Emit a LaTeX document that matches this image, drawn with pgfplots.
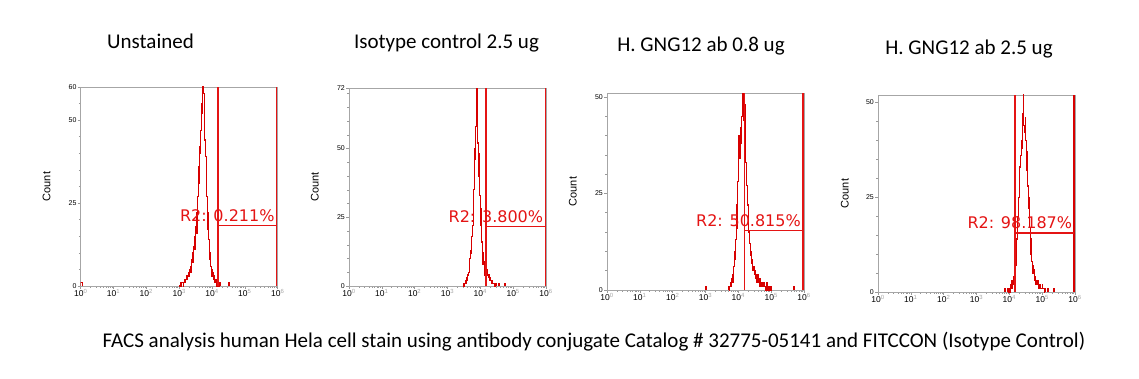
\documentclass[border=0pt]{standalone}
\usepackage{fontspec}
\setmainfont{Carlito}
\newfontfamily\arial{Liberation Sans}
\newfontfamily\dejavu{DejaVu Sans}
\usepackage{pgfplots}
\pgfplotsset{compat=1.18}
\definecolor{histc}{RGB}{215,0,0}
\definecolor{gatec}{RGB}{228,20,20}
\newcommand{\dectl}[1]{10\textsuperscript{\color{black!35}#1}}
\begin{document}
\begin{tikzpicture}
\path[use as bounding box] (0,0) rectangle (1139pt,378pt);

% ---------- Panel 1: Unstained ----------
\begin{axis}[xmode=log, scale only axis, width=197pt, height=199pt, anchor=south west, at={(80.7pt,92pt)},
    xmin=1, xmax=1000000, ymin=0, ymax=60,
    tick pos=left, tick align=outside,
    axis line style={black!35, line width=0.6pt},
    tick style={black!40, line width=0.5pt},
    major tick length=3pt, minor tick length=1.8pt,
    xtick={1,10,100,1000,10000,100000,1000000},
    xticklabels={\dectl{0},\dectl{1},\dectl{2},\dectl{3},\dectl{4},\dectl{5},\dectl{6}},
    minor xtick={2,3,4,5,6,7,8,9,20,30,40,50,60,70,80,90,200,300,400,500,600,700,800,900,2000,3000,4000,5000,6000,7000,8000,9000,20000,30000,40000,50000,60000,70000,80000,90000,200000,300000,400000,500000,600000,700000,800000,900000},
    xticklabel style={font=\arial\fontsize{8.5}{9}\selectfont, inner sep=0.5pt},
    yticklabel style={font=\arial\fontsize{7}{8}\selectfont, inner sep=1pt},
    ylabel={Count},
    ylabel style={font=\arial\fontsize{11}{12}\selectfont, at={(axis description cs:-0.173,0.5)}, anchor=center},
    ytick={0,25,50,60}, yticklabels={0,25,50,60}, minor ytick={5,10,15,20,30,35,40,45,55}]
\addplot[const plot, mark=none, draw=histc, line width=1.2pt] coordinates {(1,0) (1,1) (1.12,0)};
\addplot[const plot, mark=none, draw=histc, line width=1.2pt] coordinates {(1000,0) (1096,1) (1148,0) (1202,1) (1259,1) (1318,0) (1380,1) (1445,2) (1514,1) (1585,2) (1660,3) (1738,2) (1820,3) (1905,4) (1995,3) (2089,5) (2188,4) (2291,6) (2399,8) (2512,7) (2630,10) (2754,12) (2884,11) (3020,15) (3162,18) (3311,16) (3467,22) (3631,27) (3802,31) (3981,36) (4169,42) (4365,40) (4571,47) (4786,55) (5012,52) (5248,63) (5495,58) (5754,50) (6026,44) (6310,39) (6607,34) (6918,27) (7244,22) (7586,17) (7943,14) (8318,10) (8710,8) (9120,6) (9550,5) (10000,3) (10471,4) (10965,2) (11482,3) (12023,1) (12589,2) (13183,1) (13804,0) (14454,1) (15136,0) (16596,1) (17378,0)};
\addplot[const plot, mark=none, draw=histc, line width=1.2pt] coordinates {(31623,0) (31623,1) (33113,0)};
\addplot[color=gatec, line width=1.5pt, mark=none] coordinates {(15136,0) (15136,60)};
\addplot[color=gatec, line width=1.5pt, mark=none] coordinates {(933254,0) (933254,60)};
\addplot[color=gatec, line width=1.5pt, mark=none] coordinates {(15136,18.2) (933254,18.2)};
\node[anchor=base east, text=gatec, font=\dejavu\fontsize{16}{17}\selectfont, inner sep=0pt, xshift=-2pt, yshift=4.5pt] at (axis cs:933254,18.2) {R2: 0.211\%};
\end{axis}

% ---------- Panel 2: Isotype control ----------
\begin{axis}[xmode=log, scale only axis, width=197pt, height=198pt, anchor=south west, at={(349pt,92pt)},
    xmin=1, xmax=1000000, ymin=0, ymax=72,
    tick pos=left, tick align=outside,
    axis line style={black!35, line width=0.6pt},
    tick style={black!40, line width=0.5pt},
    major tick length=3pt, minor tick length=1.8pt,
    xtick={1,10,100,1000,10000,100000,1000000},
    xticklabels={\dectl{0},\dectl{1},\dectl{2},\dectl{3},\dectl{4},\dectl{5},\dectl{6}},
    minor xtick={2,3,4,5,6,7,8,9,20,30,40,50,60,70,80,90,200,300,400,500,600,700,800,900,2000,3000,4000,5000,6000,7000,8000,9000,20000,30000,40000,50000,60000,70000,80000,90000,200000,300000,400000,500000,600000,700000,800000,900000},
    xticklabel style={font=\arial\fontsize{8.5}{9}\selectfont, inner sep=0.5pt},
    yticklabel style={font=\arial\fontsize{7}{8}\selectfont, inner sep=1pt},
    ylabel={Count},
    ylabel style={font=\arial\fontsize{11}{12}\selectfont, at={(axis description cs:-0.173,0.5)}, anchor=center},
    ytick={0,25,50,72}, yticklabels={0,25,50,72}, minor ytick={5,10,15,20,30,35,40,45,55,60,65,70}]
\addplot[const plot, mark=none, draw=histc, line width=1.2pt] coordinates {(2884,0) (3020,1) (3162,0) (3311,1) (3467,2) (3631,1) (3802,3) (3981,2) (4169,4) (4365,5) (4571,7) (4786,10) (5012,13) (5248,12) (5495,18) (5754,22) (6026,26) (6310,35) (6607,46) (6918,50) (7244,58) (7586,75) (7943,60) (8318,52) (8710,48) (9120,40) (9550,33) (10000,28) (10471,22) (10965,16) (11482,12) (12023,8) (12589,9) (13183,6) (13804,4) (14454,7) (15136,5) (15849,6) (16596,4) (17378,3) (18197,4) (19055,2) (19953,3) (20893,2) (21878,1) (22909,2) (23988,1) (25119,1) (26303,0) (28840,1) (30200,0)};
\addplot[const plot, mark=none, draw=histc, line width=1.2pt] coordinates {(36308,0) (36308,1) (38019,0)};
\addplot[const plot, mark=none, draw=histc, line width=1.2pt] coordinates {(54954,0) (54954,1) (57544,0)};
\addplot[color=gatec, line width=1.5pt, mark=none] coordinates {(14791,0) (14791,72)};
\addplot[color=gatec, line width=1.5pt, mark=none] coordinates {(954993,0) (954993,72)};
\addplot[color=gatec, line width=1.5pt, mark=none] coordinates {(14791,21.6) (954993,21.6)};
\node[anchor=base east, text=gatec, font=\dejavu\fontsize{16}{17}\selectfont, inner sep=0pt, xshift=-2pt, yshift=4.5pt] at (axis cs:954993,21.6) {R2: 3.800\%};
\end{axis}

% ---------- Panel 3: H. GNG12 ab 0.8 ug ----------
\begin{axis}[xmode=log, scale only axis, width=197pt, height=197pt, anchor=south west, at={(607pt,88pt)},
    xmin=1, xmax=1000000, ymin=0, ymax=51,
    tick pos=left, tick align=outside,
    axis line style={black!35, line width=0.6pt},
    tick style={black!40, line width=0.5pt},
    major tick length=3pt, minor tick length=1.8pt,
    xtick={1,10,100,1000,10000,100000,1000000},
    xticklabels={\dectl{0},\dectl{1},\dectl{2},\dectl{3},\dectl{4},\dectl{5},\dectl{6}},
    minor xtick={2,3,4,5,6,7,8,9,20,30,40,50,60,70,80,90,200,300,400,500,600,700,800,900,2000,3000,4000,5000,6000,7000,8000,9000,20000,30000,40000,50000,60000,70000,80000,90000,200000,300000,400000,500000,600000,700000,800000,900000},
    xticklabel style={font=\arial\fontsize{8.5}{9}\selectfont, inner sep=0.5pt},
    yticklabel style={font=\arial\fontsize{7}{8}\selectfont, inner sep=1pt},
    ylabel={Count},
    ylabel style={font=\arial\fontsize{11}{12}\selectfont, at={(axis description cs:-0.173,0.5)}, anchor=center},
    ytick={0,25,50}, yticklabels={0,25,50}, minor ytick={5,10,15,20,30,35,40,45}]
\addplot[const plot, mark=none, draw=histc, line width=1.2pt] coordinates {(1000,0) (1000,1) (1047,0)};
\addplot[const plot, mark=none, draw=histc, line width=1.2pt] coordinates {(5012,0) (5012,1) (5248,0) (5495,1) (5754,2) (6026,1) (6310,3) (6607,2) (6918,4) (7244,6) (7586,8) (7943,10) (8318,13) (8710,16) (9120,22) (9550,28) (10000,38) (10471,40) (10965,34) (11482,42) (12023,38) (12589,45) (13183,47) (13804,52) (14454,44) (15136,48) (15849,38) (16596,33) (17378,30) (18197,27) (19055,22) (19953,18) (20893,15) (21878,12) (22909,9) (23988,10) (25119,7) (26303,8) (27542,5) (28840,6) (30200,4) (31623,5) (33113,3) (34674,4) (36308,2) (38019,4) (39811,3) (41687,2) (43652,3) (45709,1) (47863,2) (50119,2) (52481,1) (54954,2) (57544,1) (60256,2) (63096,1) (66069,0) (69183,1) (72444,2) (75858,0) (79433,1) (83176,0) (91201,1) (95499,0) (100000,1) (104713,0)};
\addplot[const plot, mark=none, draw=histc, line width=1.2pt] coordinates {(478630,0) (478630,1) (501187,0)};
\addplot[color=gatec, line width=1.5pt, mark=none] coordinates {(15136,0) (15136,51)};
\addplot[color=gatec, line width=1.5pt, mark=none] coordinates {(933254,0) (933254,51)};
\addplot[color=gatec, line width=1.5pt, mark=none] coordinates {(15136,15.4) (933254,15.4)};
\node[anchor=base east, text=gatec, font=\dejavu\fontsize{16}{17}\selectfont, inner sep=0pt, xshift=-2pt, yshift=4.5pt] at (axis cs:933254,15.4) {R2: 50.815\%};
\end{axis}

% ---------- Panel 4: H. GNG12 ab 2.5 ug ----------
\begin{axis}[xmode=log, scale only axis, width=197pt, height=197pt, anchor=south west, at={(878pt,86pt)},
    xmin=1, xmax=1000000, ymin=0, ymax=52,
    tick pos=left, tick align=outside,
    axis line style={black!35, line width=0.6pt},
    tick style={black!40, line width=0.5pt},
    major tick length=3pt, minor tick length=1.8pt,
    xtick={1,10,100,1000,10000,100000,1000000},
    xticklabels={\dectl{0},\dectl{1},\dectl{2},\dectl{3},\dectl{4},\dectl{5},\dectl{6}},
    minor xtick={2,3,4,5,6,7,8,9,20,30,40,50,60,70,80,90,200,300,400,500,600,700,800,900,2000,3000,4000,5000,6000,7000,8000,9000,20000,30000,40000,50000,60000,70000,80000,90000,200000,300000,400000,500000,600000,700000,800000,900000},
    xticklabel style={font=\arial\fontsize{8.5}{9}\selectfont, inner sep=0.5pt},
    yticklabel style={font=\arial\fontsize{7}{8}\selectfont, inner sep=1pt},
    ylabel={Count},
    ylabel style={font=\arial\fontsize{11}{12}\selectfont, at={(axis description cs:-0.168,0.5)}, anchor=center},
    ytick={0,25,50}, yticklabels={0,25,50}, minor ytick={5,10,15,20,30,35,40,45}]
\addplot[const plot, mark=none, draw=histc, line width=1.2pt] coordinates {(7244,0) (7244,1) (7586,0)};
\addplot[const plot, mark=none, draw=histc, line width=1.2pt] coordinates {(9120,0) (9120,1) (9550,0) (10000,1) (10471,0) (10965,2) (11482,1) (12023,3) (12589,2) (13183,4) (13804,3) (14454,5) (15136,7) (15849,10) (16596,14) (17378,16) (18197,20) (19055,25) (19953,28) (20893,33) (21878,36) (22909,40) (23988,38) (25119,47) (26303,54) (27542,44) (28840,42) (30200,46) (31623,40) (33113,37) (34674,32) (36308,28) (38019,25) (39811,22) (41687,17) (43652,14) (45709,10) (47863,8) (50119,7) (52481,5) (54954,6) (57544,3) (60256,4) (63096,2) (66069,3) (69183,2) (72444,3) (75858,1) (79433,2) (83176,1) (87096,2) (91201,1) (95499,1) (100000,2) (104713,1) (109648,1) (114815,0) (120226,1) (125893,0)};
\addplot[const plot, mark=none, draw=histc, line width=1.2pt] coordinates {(144544,0) (144544,1) (151356,0)};
\addplot[const plot, mark=none, draw=histc, line width=1.2pt] coordinates {(218776,0) (218776,1) (229087,0)};
\addplot[color=gatec, line width=1.5pt, mark=none] coordinates {(14791,0) (14791,52)};
\addplot[color=histc, line width=1.8pt, mark=none] coordinates {(954993,0) (954993,52)};
\addplot[color=gatec, line width=1.5pt, mark=none] coordinates {(14791,15.6) (954993,15.6)};
\node[anchor=base east, text=gatec, font=\dejavu\fontsize{16}{17}\selectfont, inner sep=0pt, xshift=-2pt, yshift=4.5pt] at (axis cs:954993,15.6) {R2: 98.187\%};
\end{axis}

% ---------- Titles ----------
\node[anchor=base, font=\fontsize{21}{24}\selectfont, inner sep=0pt] at (150.5pt,329pt) {Unstained};
\node[anchor=base, font=\fontsize{21}{24}\selectfont, inner sep=0pt] at (446.5pt,329pt) {Isotype control 2.5 ug};
\node[anchor=base, font=\fontsize{21}{24}\selectfont, inner sep=0pt] at (701pt,326pt) {H. GNG12 ab 0.8 ug};
\node[anchor=base, font=\fontsize{21}{24}\selectfont, inner sep=0pt] at (969pt,323.7pt) {H. GNG12 ab 2.5 ug};

% ---------- Caption ----------
\node[anchor=base, font=\fontsize{21}{24}\selectfont, inner sep=0pt] at (594pt,30.7pt) {FACS analysis human Hela cell stain using antibody conjugate Catalog \# 32775-05141 and FITCCON (Isotype Control)};
\end{tikzpicture}
\end{document}
